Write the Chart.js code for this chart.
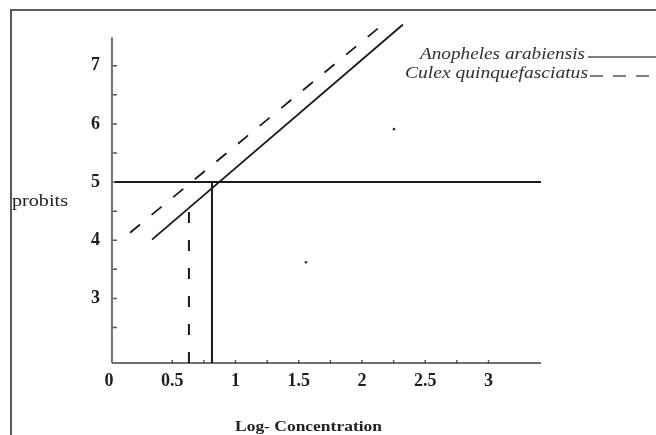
<!DOCTYPE html>
<html>
<head>
<meta charset="utf-8">
<script src="https://cdn.jsdelivr.net/npm/chart.js@4/dist/chart.umd.min.js"></script>
<style>
  html, body { margin: 0; padding: 0; background: #fff; }
  #wrap { width: 656px; height: 435px; position: relative; }
</style>
</head>
<body>
<div id="wrap"><canvas id="probitChart"></canvas></div>
<script>
// tick labels
const xTicks = [0, 0.5, 1, 1.5, 2, 2.5, 3];
const yTicks = [3, 4, 5, 6, 7];

// fitted probit lines (end points)
const anophelesX = [0.34, 2.324];
const anophelesY = [4.01, 7.71];
const culexX = [0.166, 2.142];
const culexY = [4.13, 7.67];

// probit 5 level and LC50 drop lines
const probitLevel = 5;
const levelX = [0.047, 3.415];
const lc50Anopheles = 0.814;
const lc50Culex = 0.632;
const culexDropTop = 4.55;

// stray specks in the scan
const speckX = [1.557, 2.253];
const speckY = [3.62, 5.91];

const axisMin = { x: 0.047, y: 1.89 };
const axisMax = { x: 3.415, y: 7.49 };

const pts = (xs, ys) => xs.map((x, i) => ({ x: x, y: ys[i] }));

const fitText = (ctx, text, x, y, width, align) => {
  const w = ctx.measureText(text).width;
  const s = width / w;
  ctx.save();
  ctx.translate(align === "right" ? x - width : x, y);
  ctx.scale(s, 1);
  ctx.textAlign = "left";
  ctx.fillText(text, 0, 0);
  ctx.restore();
};

const decorPlugin = {
  id: "decor",
  beforeDatasetsDraw(chart) {
    const ctx = chart.ctx;
    const xs = chart.scales.x;
    const ys = chart.scales.y;
    ctx.save();
    // frame of the scanned figure
    ctx.strokeStyle = "#5a5a5a";
    ctx.lineWidth = 2;
    ctx.beginPath();
    ctx.moveTo(11, 435);
    ctx.lineTo(11, 10);
    ctx.lineTo(656, 10);
    ctx.stroke();

    // axes
    ctx.strokeStyle = "#707070";
    ctx.lineWidth = 2;
    const x0 = xs.getPixelForValue(axisMin.x);
    const y0 = ys.getPixelForValue(axisMin.y);
    ctx.beginPath();
    ctx.moveTo(x0 - 3, ys.getPixelForValue(axisMax.y));
    ctx.lineTo(x0 - 3, y0);
    ctx.moveTo(x0 - 3, y0);
    ctx.lineTo(xs.getPixelForValue(axisMax.x), y0);
    ctx.stroke();

    // small tick marks
    ctx.lineWidth = 1.5;
    ctx.strokeStyle = "#555";
    ctx.beginPath();
    for (let v = 2.5; v <= 7; v += 0.5) {
      const py = ys.getPixelForValue(v);
      ctx.moveTo(x0 - 2, py);
      ctx.lineTo(x0 + 2, py);
    }
    for (let v = 0.5; v <= 3; v += 0.25) {
      const px = xs.getPixelForValue(v);
      ctx.moveTo(px, y0 - 3);
      ctx.lineTo(px, y0 + 1);
    }
    ctx.stroke();
    ctx.restore();
  },
  afterDraw(chart) {
    const ctx = chart.ctx;
    ctx.save();
    ctx.fillStyle = "#222";
    ctx.textBaseline = "middle";
    ctx.font = "17px 'Liberation Serif'";
    fitText(ctx, "probits", 12, 202, 56, "left");
    ctx.font = "bold 15px 'Liberation Serif'";
    fitText(ctx, "Log- Concentration", 235, 427, 147, "left");

    // legend
    ctx.fillStyle = "#2f2f3a";
    ctx.font = "italic 16px 'Liberation Serif'";
    fitText(ctx, "Anopheles arabiensis", 585, 55, 165, "right");
    fitText(ctx, "Culex quinquefasciatus", 588, 74, 183, "right");
    ctx.strokeStyle = "#555";
    ctx.lineWidth = 1.5;
    ctx.beginPath();
    ctx.moveTo(588, 57);
    ctx.lineTo(656, 57);
    ctx.stroke();
    ctx.setLineDash([13, 10]);
    ctx.beginPath();
    ctx.moveTo(590, 76);
    ctx.lineTo(656, 76);
    ctx.stroke();
    ctx.restore();
  },
};

const lineSet = (label, data, opts) =>
  Object.assign(
    {
      label: label,
      data: data,
      showLine: true,
      borderColor: "#1a1a1a",
      borderWidth: 1.8,
      pointRadius: 0,
      fill: false,
    },
    opts
  );

const config = {
  type: "scatter",
  data: {
    datasets: [
      lineSet("Anopheles arabiensis", pts(anophelesX, anophelesY), {}),
      lineSet("Culex quinquefasciatus", pts(culexX, culexY), { borderDash: [13, 15] }),
      lineSet("probit 5", pts(levelX, [probitLevel, probitLevel]), { borderWidth: 2 }),
      lineSet("LC50 An.", pts([lc50Anopheles, lc50Anopheles], [axisMin.y, probitLevel]), { borderWidth: 2 }),
      lineSet("LC50 Cx.", pts([lc50Culex, lc50Culex], [axisMin.y, culexDropTop]), {
        borderWidth: 2,
        borderDash: [11, 17],
      }),
      {
        label: "specks",
        data: pts(speckX, speckY),
        pointRadius: 1.3,
        backgroundColor: "#333",
        borderWidth: 0,
      },
    ],
  },
  options: {
    responsive: true,
    maintainAspectRatio: false,
    animation: false,
    layout: { padding: { top: 12, right: 115, left: 0, bottom: 0 } },
    plugins: { legend: { display: false }, tooltip: { enabled: false } },
    scales: {
      x: {
        type: "linear",
        min: 0,
        max: 3.415,
        grid: { display: false, drawTicks: false },
        border: { display: false },
        afterBuildTicks: (scale) => {
          scale.ticks = xTicks.map((v) => ({ value: v }));
        },
        afterFit: (scale) => {
          scale.height = 72;
        },
        ticks: {
          padding: 8,
          maxRotation: 0,
          autoSkip: false,
          color: "#1e1e1e",
          font: { family: "'Liberation Serif'", size: 18, weight: "bold" },
          callback: (v) => String(v),
        },
      },
      y: {
        type: "linear",
        min: 1.89,
        max: 7.79,
        grid: { display: false, drawTicks: false },
        border: { display: false },
        afterBuildTicks: (scale) => {
          scale.ticks = yTicks.map((v) => ({ value: v }));
        },
        afterFit: (scale) => {
          scale.width = 109;
        },
        ticks: {
          padding: 9,
          autoSkip: false,
          color: "#1e1e1e",
          font: { family: "'Liberation Serif'", size: 18, weight: "bold" },
          callback: (v) => String(v),
        },
      },
    },
  },
  plugins: [decorPlugin],
};

new Chart(document.querySelector("#probitChart"), config);
</script>
</body>
</html>
